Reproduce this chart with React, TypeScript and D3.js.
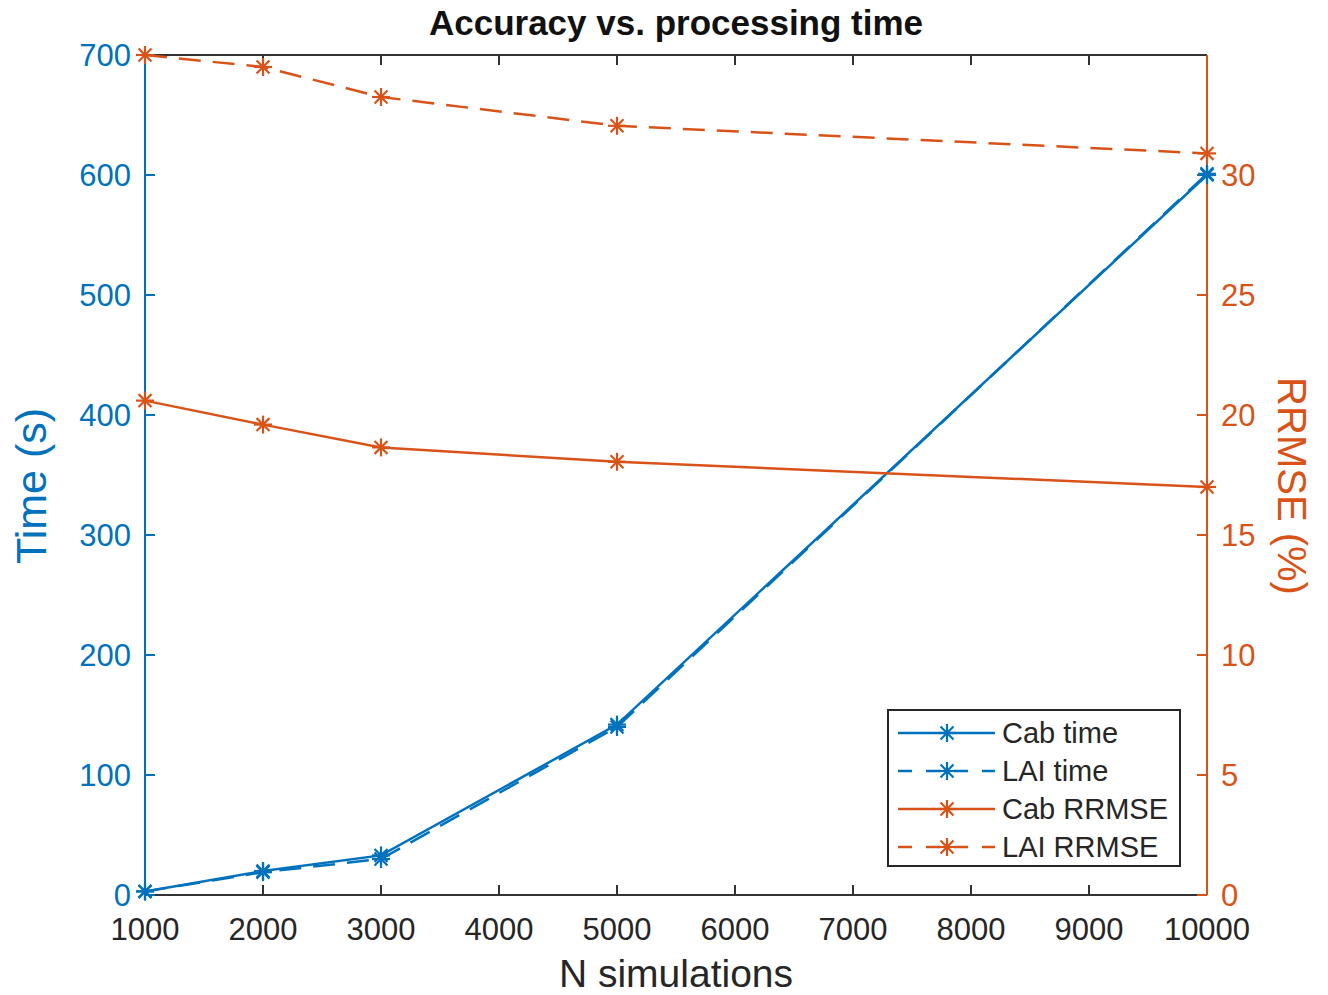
import React from "react";
import * as d3 from "d3";

const nSims = [1000, 2000, 3000, 5000, 10000];
const cabTime = [3, 20, 33, 142, 600];
const laiTime = [3, 19, 30, 140, 601];
const cabRRMSE = [20.6, 19.6, 18.65, 18.05, 17.0];
const laiRRMSE = [35.0, 34.5, 33.25, 32.05, 30.9];
const xTicks = [1000, 2000, 3000, 4000, 5000, 6000, 7000, 8000, 9000, 10000];
const leftTicks = [0, 100, 200, 300, 400, 500, 600, 700];
const rightTicks = [0, 5, 10, 15, 20, 25, 30];

const W = 1328, H = 995;
const L = 145, R = 1207, T = 55, B = 895;
const BLUE = "#0072BD", ORANGE = "#D95319";
const FONT = "'Liberation Sans', Arial, Helvetica, sans-serif";

const x = d3.scaleLinear().domain([1000, 10000]).range([L, R]);
const yL = d3.scaleLinear().domain([0, 700]).range([B, T]);
const yR = d3.scaleLinear().domain([0, 35]).range([B, T]);

function Star({ cx, cy, color, r = 9 }: { cx: number; cy: number; color: string; r?: number }) {
  const d = r * 0.72;
  return (
    <g stroke={color} strokeWidth={2.2}>
      <line x1={cx - r} y1={cy} x2={cx + r} y2={cy} />
      <line x1={cx} y1={cy - r} x2={cx} y2={cy + r} />
      <line x1={cx - d} y1={cy - d} x2={cx + d} y2={cy + d} />
      <line x1={cx - d} y1={cy + d} x2={cx + d} y2={cy - d} />
    </g>
  );
}

type Series = { name: string; vals: number[]; y: d3.ScaleLinear<number, number>; color: string; dash?: string };
const series: Series[] = [
  { name: "Cab time", vals: cabTime, y: yL, color: BLUE },
  { name: "LAI time", vals: laiTime, y: yL, color: BLUE, dash: "22 12" },
  { name: "Cab RRMSE", vals: cabRRMSE, y: yR, color: ORANGE },
  { name: "LAI RRMSE", vals: laiRRMSE, y: yR, color: ORANGE, dash: "22 12" },
];

export default function App() {
  const tick = 10;
  return (
    <svg width={W} height={H} style={{ position: "absolute", left: 0, top: 0, background: "#fff" }} fontFamily={FONT}>
      <rect x={0} y={0} width={W} height={H} fill="#fff" />
      {/* top & bottom axes */}
      <line x1={L} y1={T} x2={R} y2={T} stroke="#333" strokeWidth={2} />
      <line x1={L} y1={B} x2={R} y2={B} stroke="#333" strokeWidth={2} />
      {xTicks.map((t) => (
        <g key={"xt" + t}>
          <line x1={x(t)} y1={B} x2={x(t)} y2={B - tick} stroke="#333" strokeWidth={2} />
          <line x1={x(t)} y1={T} x2={x(t)} y2={T + tick} stroke="#333" strokeWidth={2} />
          <text x={x(t)} y={B + 45} fontSize={31} fill="#262626" textAnchor="middle">{t}</text>
        </g>
      ))}
      {/* left axis */}
      <line x1={L} y1={T} x2={L} y2={B} stroke={BLUE} strokeWidth={2} />
      {leftTicks.map((t) => (
        <g key={"yl" + t}>
          <line x1={L} y1={yL(t)} x2={L + tick} y2={yL(t)} stroke={BLUE} strokeWidth={2} />
          <text x={L - 14} y={yL(t)} dy="0.35em" fontSize={31} fill={BLUE} textAnchor="end">{t}</text>
        </g>
      ))}
      {/* right axis */}
      <line x1={R} y1={T} x2={R} y2={B} stroke={ORANGE} strokeWidth={2} />
      {rightTicks.map((t) => (
        <g key={"yr" + t}>
          <line x1={R} y1={yR(t)} x2={R - tick} y2={yR(t)} stroke={ORANGE} strokeWidth={2} />
          <text x={R + 14} y={yR(t)} dy="0.35em" fontSize={31} fill={ORANGE} textAnchor="start">{t}</text>
        </g>
      ))}
      {/* series */}
      {series.map((s) => {
        const line = d3.line<number>().x((_, i) => x(nSims[i])).y((v) => s.y(v));
        return (
          <g key={s.name}>
            <path d={line(s.vals) || ""} fill="none" stroke={s.color} strokeWidth={2.5} strokeDasharray={s.dash} />
            {s.vals.map((v, i) => (
              <Star key={i} cx={x(nSims[i])} cy={s.y(v)} color={s.color} />
            ))}
          </g>
        );
      })}
      {/* titles */}
      <text x={(L + R) / 2} y={35} fontSize={35} fontWeight="bold" fill="#111" textAnchor="middle">Accuracy vs. processing time</text>
      <text x={(L + R) / 2} y={987} fontSize={39} fill="#262626" textAnchor="middle">N simulations</text>
      <text transform={`translate(46,486) rotate(-90)`} fontSize={43} fill={BLUE} textAnchor="middle">Time (s)</text>
      <text transform={`translate(1278,486) rotate(90)`} fontSize={40} fill={ORANGE} textAnchor="middle">RRMSE (%)</text>
      {/* legend */}
      <g>
        <rect x={888} y={710} width={292} height={156} fill="#fff" stroke="#262626" strokeWidth={2} />
        {series.map((s, i) => {
          const ly = 733 + i * 38;
          return (
            <g key={"lg" + s.name}>
              <line x1={898} y1={ly} x2={995} y2={ly} stroke={s.color} strokeWidth={2.5} strokeDasharray={s.dash ? "14 14" : undefined} />
              <Star cx={947} cy={ly} color={s.color} />
              <text x={1002} y={ly} dy="0.35em" fontSize={29} fill="#262626">{s.name}</text>
            </g>
          );
        })}
      </g>
    </svg>
  );
}
